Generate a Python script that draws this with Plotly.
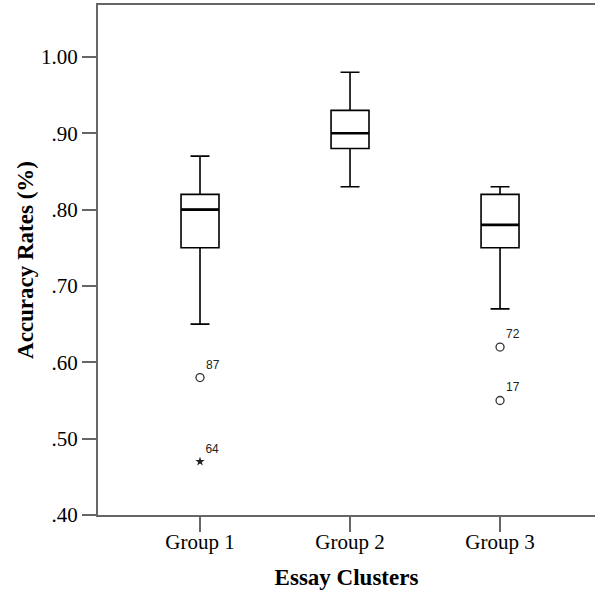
import plotly.graph_objects as go

groups = ["Group 1", "Group 2", "Group 3"]
xpos = [0, 1, 2]
lower = [0.65, 0.83, 0.67]
q1 = [0.75, 0.88, 0.75]
median = [0.80, 0.90, 0.78]
q3 = [0.82, 0.93, 0.82]
upper = [0.87, 0.98, 0.83]

# outliers: group index, value, case label
out_x = [0, 2, 2]
out_y = [0.58, 0.62, 0.55]
out_lbl = ["87", "72", "17"]
ext_x = [0]
ext_y = [0.47]
ext_lbl = ["64"]

ytick_vals = [0.40, 0.50, 0.60, 0.70, 0.80, 0.90, 1.00]
ytick_text = [".40", ".50", ".60", ".70", ".80", ".90", "1.00"]

box_w = 0.253
serif = "Liberation Serif, Times New Roman, serif"
sans = "Liberation Sans, Arial, sans-serif"

fig = go.Figure()
fig.add_trace(go.Box(
    x=xpos, q1=q1, median=median, q3=q3, lowerfence=lower, upperfence=upper,
    width=box_w, whiskerwidth=0.5, fillcolor="white",
    line=dict(color="black", width=1.6), boxpoints=False, hoverinfo="skip",
    showlegend=False,
))
# thicker median lines
mx, my = [], []
for x, m in zip(xpos, median):
    mx += [x - box_w / 2, x + box_w / 2, None]
    my += [m, m, None]
fig.add_trace(go.Scatter(x=mx, y=my, mode="lines", line=dict(color="black", width=2.6),
                         showlegend=False, hoverinfo="skip"))
fig.add_trace(go.Scatter(
    x=out_x, y=out_y, mode="markers+text", text=out_lbl, textposition="top right",
    textfont=dict(family=sans, size=12, color="#222"),
    marker=dict(symbol="circle-open", size=8, color="#333", line=dict(width=1.3)),
    showlegend=False, hoverinfo="skip"))
fig.add_trace(go.Scatter(
    x=ext_x, y=ext_y, mode="markers+text", text=ext_lbl, textposition="top right",
    textfont=dict(family=sans, size=12, color="#222"),
    marker=dict(symbol="star", size=7, color="#222"),
    showlegend=False, hoverinfo="skip"))

fig.update_layout(
    width=595, height=592, margin=dict(l=98, r=0, t=5, b=77),
    plot_bgcolor="white", paper_bgcolor="white",
    font=dict(family=serif, size=21, color="black"),
    xaxis=dict(range=[-0.68, 2.633], tickvals=xpos, ticktext=groups,
               showgrid=False, zeroline=False, showline=True, linecolor="#666", linewidth=2,
               mirror=True, ticks="outside", ticklen=15, tickwidth=2, tickcolor="#666",
               ticklabelstandoff=-8,
               title=dict(text="<b>Essay Clusters</b>", font=dict(family=serif, size=23), standoff=16),
               tickfont=dict(family=serif, size=21)),
    yaxis=dict(range=[0.40, 1.068], tickvals=ytick_vals, ticktext=ytick_text,
               showgrid=False, zeroline=False, showline=True, linecolor="#666", linewidth=2,
               ticks="outside", ticklen=14, tickwidth=2, tickcolor="#666",
               title=dict(text="<b>Accuracy Rates (%)</b>", font=dict(family=serif, size=23), standoff=1),
               tickfont=dict(family=serif, size=21)),
)
fig.write_html("out.html")
